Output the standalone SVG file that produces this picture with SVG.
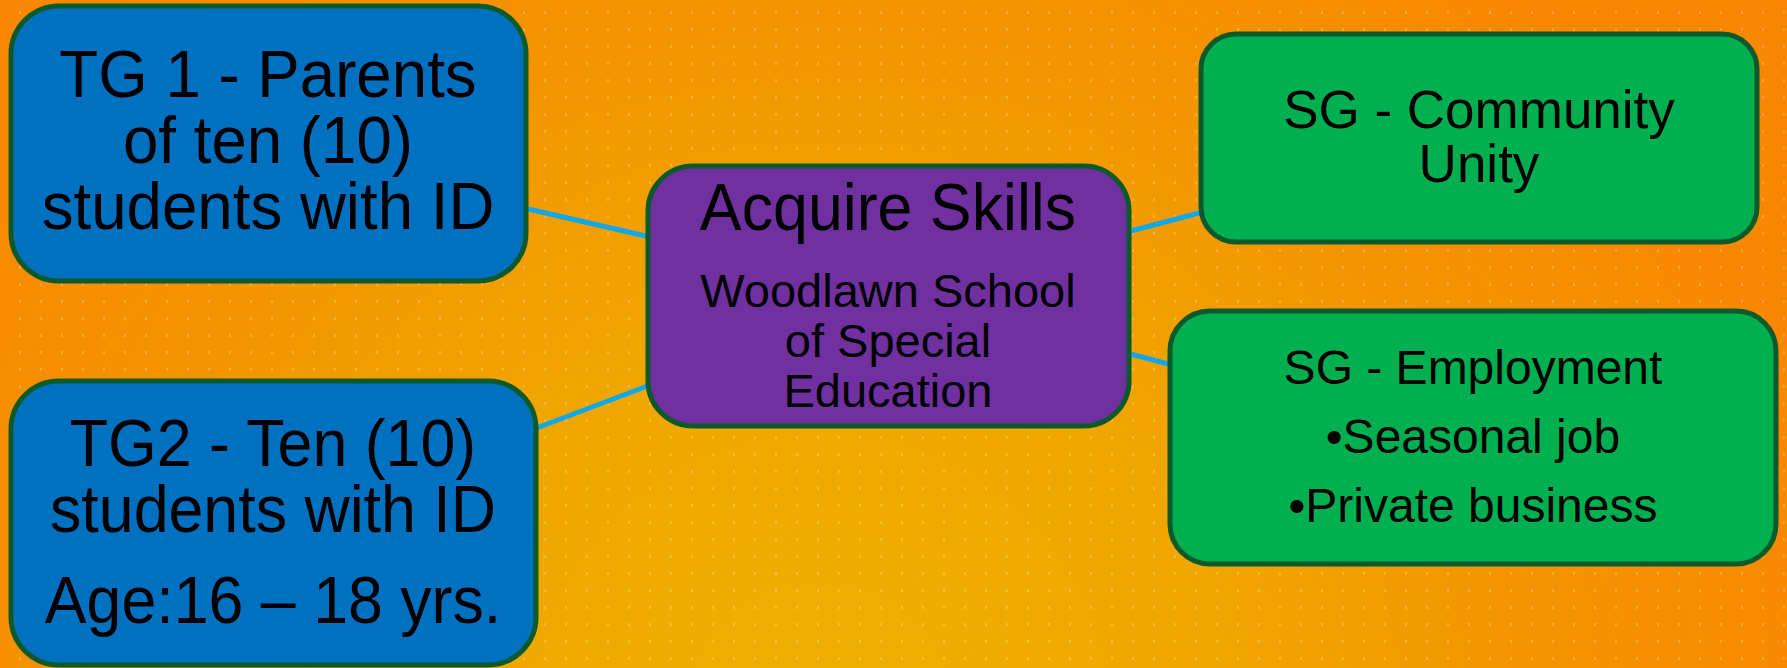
<svg xmlns="http://www.w3.org/2000/svg" width="1787" height="668" viewBox="0 0 1787 668">
  <defs>
    <radialGradient id="bg" cx="820" cy="720" r="1000" gradientUnits="userSpaceOnUse">
      <stop offset="0" stop-color="#eeb000"/>
      <stop offset="0.4" stop-color="#f0a600"/>
      <stop offset="0.7" stop-color="#f49500"/>
      <stop offset="1" stop-color="#f98800"/>
    </radialGradient>
    <pattern id="dots" x="19" y="11" width="21" height="17" patternUnits="userSpaceOnUse">
      <rect x="0" y="0" width="2" height="3" fill="#ffffff" fill-opacity="0.22"/>
    </pattern>
  </defs>
  <style>
    .box { stroke: #0c5a2c; stroke-width: 5; }
    .blue { fill: #0070c0; }
    .purple { fill: #7030a0; }
    .green { fill: #00b050; }
    .conn { stroke: #10a8e6; stroke-width: 5; fill: none; }
    text { font-family: "Liberation Sans", Arial, sans-serif; fill: #000; text-anchor: middle; }
  </style>
  <rect x="0" y="0" width="1787" height="668" fill="url(#bg)"/>
  <rect x="0" y="0" width="1787" height="668" fill="url(#dots)"/>

  <g id="connectors">
    <line class="conn" x1="524" y1="208" x2="650" y2="237"/>
    <line class="conn" x1="534" y1="429" x2="650" y2="385"/>
    <line class="conn" x1="1127" y1="232" x2="1203" y2="212"/>
    <line class="conn" x1="1127" y1="353" x2="1172" y2="365"/>
  </g>

  <g id="tg1">
    <rect class="box blue" x="11" y="6" width="515" height="275" rx="48" ry="48"/>
    <g transform="translate(268,0) scale(0.95,1)">
      <text x="0" y="97" font-size="67">TG 1 - Parents</text>
      <text x="0" y="163" font-size="67">of ten (10)</text>
      <text x="0" y="229" font-size="67">students with ID</text>
    </g>
  </g>

  <g id="tg2">
    <rect class="box blue" x="11" y="381" width="525" height="284" rx="48" ry="48"/>
    <g transform="translate(273,0) scale(0.95,1)">
      <text x="0" y="466" font-size="66">TG2 - Ten (10)</text>
      <text x="0" y="532" font-size="66">students with ID</text>
      <text x="0" y="623" font-size="66">Age:16 – 18 yrs.</text>
    </g>
  </g>

  <g id="center">
    <rect class="box purple" x="648" y="166" width="481" height="260" rx="45" ry="45"/>
    <g transform="translate(888,0) scale(0.95,1)">
      <text x="0" y="230" font-size="66">Acquire Skills</text>
    </g>
    <text x="888" y="307" font-size="47">Woodlawn School</text>
    <text x="888" y="357" font-size="47">of Special</text>
    <text x="888" y="407" font-size="47">Education</text>
  </g>

  <g id="sg-community">
    <rect class="box green" x="1201" y="34" width="556" height="208" rx="35" ry="35"/>
    <text x="1479" y="128" font-size="53">SG - Community</text>
    <text x="1479" y="182" font-size="53">Unity</text>
  </g>

  <g id="sg-employment">
    <rect class="box green" x="1170" y="311" width="606" height="253" rx="40" ry="40"/>
    <text x="1473" y="384" font-size="48">SG - Employment</text>
    <text x="1473" y="453" font-size="48">•Seasonal job</text>
    <text x="1473" y="522" font-size="48">•Private business</text>
  </g>
</svg>
